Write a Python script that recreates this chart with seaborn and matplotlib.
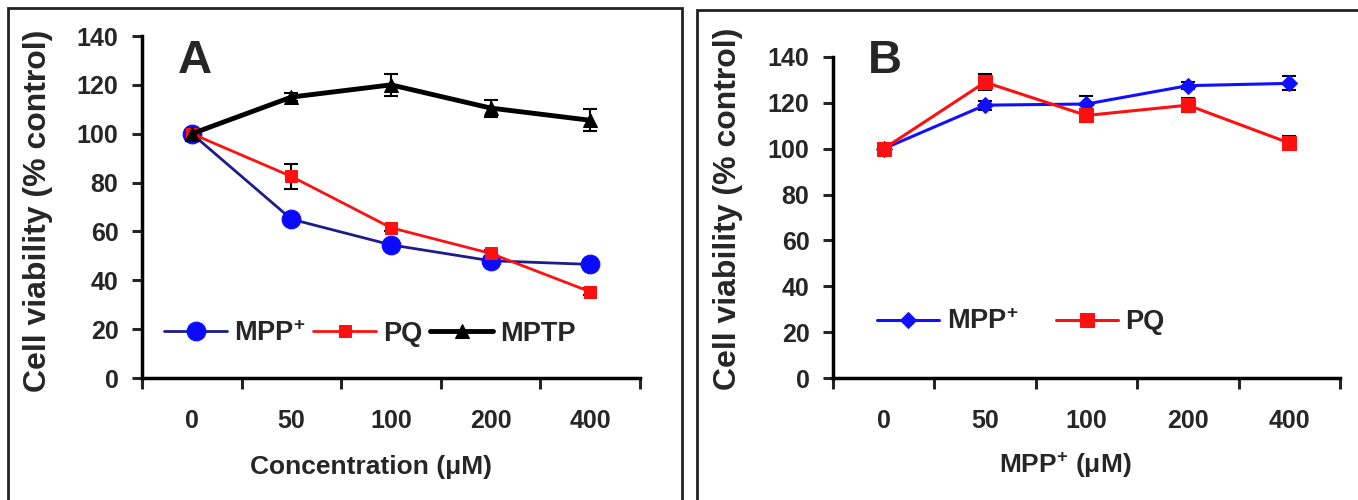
import numpy as np
import pandas as pd
import matplotlib
matplotlib.use("Agg")
import matplotlib.pyplot as plt
from matplotlib.patches import Rectangle
import seaborn as sns

# ---------------- data ----------------
conc_labels = ["0", "50", "100", "200", "400"]

a_mpp = [100, 65, 54.5, 48, 46.5]
a_mpp_err = [1.0, 2.0, 1.5, 1.5, 1.5]
a_pq = [100, 82.5, 61.5, 51, 35.3]
a_pq_err = [1.0, 5.0, 1.5, 1.5, 1.5]
a_mptp = [100, 115, 120, 110.5, 105.5]
a_mptp_err = [1.0, 1.5, 4.5, 3.5, 4.5]

b_mpp = [100, 119, 119.5, 127.5, 128.5]
b_mpp_err = [1.0, 2.0, 3.5, 1.5, 3.0]
b_pq = [100, 129, 114.5, 119, 102.5]
b_pq_err = [1.0, 3.5, 3.0, 3.0, 3.0]

y_ticks = [0, 20, 40, 60, 80, 100, 120, 140]

# ---------------- style ----------------
sns.set_theme(style="ticks")
plt.rcParams["font.family"] = ["Liberation Sans", "DejaVu Sans"]
plt.rcParams["font.weight"] = "bold"
plt.rcParams["mathtext.fontset"] = "custom"
plt.rcParams["mathtext.rm"] = "Liberation Sans:bold"
plt.rcParams["mathtext.bf"] = "Liberation Sans:bold"
plt.rcParams["mathtext.it"] = "Liberation Sans:bold"

fig = plt.figure(figsize=(13.58, 5.0), dpi=100)
axA = fig.add_axes([0.1046, 0.244, 0.3667, 0.684])
axB = fig.add_axes([0.6134, 0.244, 0.3733, 0.642])

pos = np.arange(len(conc_labels))

def draw(ax, y, err, line_color, marker, mcolor, ms, lw, label):
    df = pd.DataFrame({"pos": pos, "val": y})
    sns.lineplot(data=df, x="pos", y="val", ax=ax, color=line_color, lw=lw,
                 marker=marker, markersize=ms, markerfacecolor=mcolor,
                 markeredgecolor=mcolor, sort=False, label=label, legend=False)
    ax.errorbar(pos, y, yerr=err, fmt="none", ecolor="black", elinewidth=1.5,
                capsize=5, capthick=1.5, zorder=1)

sup = r"MPP$^{\mathbf{+}}$"

# Panel A
draw(axA, a_mpp, a_mpp_err, "#1c1c8a", "o", "#0a0aff", 13.5, 2.0, sup)
draw(axA, a_pq, a_pq_err, "#ff1010", "s", "#ff1010", 9, 2.0, "PQ")
draw(axA, a_mptp, a_mptp_err, "black", "^", "black", 10, 3.5, "MPTP")

# Panel B
draw(axB, b_mpp, b_mpp_err, "#1010ff", "D", "#1010ff", 8.5, 2.2, sup)
draw(axB, b_pq, b_pq_err, "#ff1010", "s", "#ff1010", 10, 2.2, "PQ")

for ax in (axA, axB):
    ax.set_xlim(-0.5, 4.5)
    ax.set_ylim(0, 140)
    ax.set_yticks(y_ticks)
    ax.set_yticklabels([str(t) for t in y_ticks], fontsize=18, fontweight="bold")
    ax.set_xticks(pos)
    ax.set_xticklabels(conc_labels, fontsize=18, fontweight="bold")
    ax.set_xticks(np.arange(-0.5, 5.0, 1.0), minor=True)
    ax.tick_params(axis="x", which="major", length=0, pad=22)
    ax.tick_params(axis="x", which="minor", length=8, width=2.2, direction="out")
    ax.tick_params(axis="y", length=7, width=2.2, direction="out", pad=10)
    for s in ("top", "right"):
        ax.spines[s].set_visible(False)
    for s in ("left", "bottom"):
        ax.spines[s].set_linewidth(2.5)
        ax.spines[s].set_color("black")
    ax.set_ylabel("Cell viability (% control)", fontsize=23, fontweight="bold")
    ax.set_facecolor("white")

axA.yaxis.set_label_coords(-0.179, 0.488)
axB.yaxis.set_label_coords(-0.178, 0.527)

axA.set_xlabel("Concentration (\u03bcM)", fontsize=19, fontweight="bold")
axA.xaxis.set_label_coords(0.46, -0.225)
axB.set_xlabel(sup + " (\u03bcM)", fontsize=19, fontweight="bold")
axB.xaxis.set_label_coords(0.458, -0.228)

axA.text(0.072, 0.99, "A", transform=axA.transAxes, fontsize=34, fontweight="bold",
         va="top", ha="left")
axB.text(0.069, 1.055, "B", transform=axB.transAxes, fontsize=34, fontweight="bold",
         va="top", ha="left")

axA.legend(loc="center left", bbox_to_anchor=(0.045, 0.13), ncol=3, frameon=False,
           fontsize=19.5, handlelength=2.3, handletextpad=0.27, columnspacing=0.3,
           borderaxespad=0, borderpad=0)
axB.legend(loc="center left", bbox_to_anchor=(0.087, 0.174), ncol=2, frameon=False,
           fontsize=19.5, handlelength=2.3, handletextpad=0.27, columnspacing=1.4,
           borderaxespad=0, borderpad=0)

# Panel frames
fig.patches.append(Rectangle((0.0059, -0.02), 0.496, 1.004, transform=fig.transFigure,
                             fill=False, lw=2, edgecolor="#222222"))
fig.patches.append(Rectangle((0.5133, -0.02), 0.5, 1.0, transform=fig.transFigure,
                             fill=False, lw=2, edgecolor="#222222"))

fig.savefig("out.png", dpi=100, facecolor="white")
